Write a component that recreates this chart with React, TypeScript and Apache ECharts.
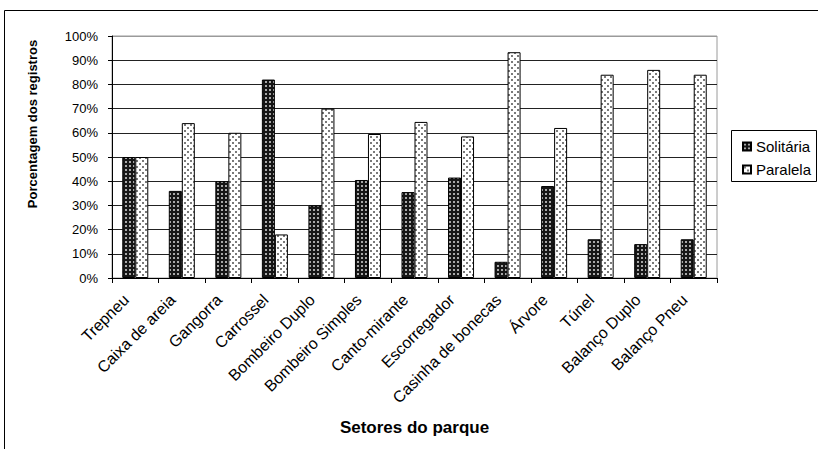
import React, { useEffect, useRef } from "react";
import * as echarts from "echarts";

const categories = [
  "Trepneu",
  "Caixa de areia",
  "Gangorra",
  "Carrossel",
  "Bombeiro Duplo",
  "Bombeiro Simples",
  "Canto-mirante",
  "Escorregador",
  "Casinha de bonecas",
  "Árvore",
  "Túnel",
  "Balanço Duplo",
  "Balanço Pneu",
];
const solitaria = [50, 36, 40, 82, 30, 40.5, 35.5, 41.5, 6.7, 38, 16, 14, 16];
const paralela = [50, 64, 60, 18, 70, 59.5, 64.5, 58.5, 93.3, 62, 84, 86, 84];
const seriesNames = ["Solitária", "Paralela"];
const yAxisTitle = "Porcentagem dos registros";
const xAxisTitle = "Setores do parque";

const FONT = '"Liberation Sans", Arial, sans-serif';

function makePattern(
  size: number,
  bg: string,
  fg: string,
  dots: Array<[number, number, number, number]>
) {
  const c = document.createElement("canvas");
  c.width = size;
  c.height = size;
  const ctx = c.getContext("2d")!;
  ctx.fillStyle = bg;
  ctx.fillRect(0, 0, size, size);
  ctx.fillStyle = fg;
  dots.forEach(([x, y, w, h]) => ctx.fillRect(x, y, w, h));
  return c;
}

export default function App() {
  const ref = useRef<HTMLDivElement>(null);
  useEffect(() => {
    if (!ref.current) return;
    const chart = echarts.init(ref.current, undefined, { renderer: "svg" });
    const darkPat = makePattern(4, "#161616", "#a8a8a8", [[1, 1, 2, 2]]);
    const lightPat = makePattern(6, "#ffffff", "#7a7a7a", [
      [1, 1, 2, 2],
      [4, 4, 2, 2],
    ]);
    const splitColors = Array.from({ length: 11 }, (_, i) =>
      i === 10 ? "#9a9a9a" : "#222222"
    );
    chart.setOption({
      animation: false,
      backgroundColor: "#ffffff",
      textStyle: { fontFamily: FONT, color: "#000" },
      grid: {
        left: 112,
        top: 36,
        width: 605,
        height: 242,
        show: true,
        borderColor: "#9a9a9a",
        borderWidth: 1,
      },
      legend: {
        data: seriesNames,
        orient: "vertical",
        left: 742,
        top: 139,
        itemWidth: 8,
        itemHeight: 8,
        itemGap: 8,
        padding: 0,
        icon: "rect",
        textStyle: { fontSize: 15, color: "#000", fontFamily: FONT },
      },
      xAxis: {
        type: "category",
        data: categories,
        axisLine: { show: true, lineStyle: { color: "#000", width: 1 } },
        axisTick: { show: true, length: 5, lineStyle: { color: "#000" } },
        axisLabel: {
          interval: 0,
          rotate: 45,
          fontSize: 16,
          margin: 10,
          padding: [0, 13, 0, 0],
          color: "#000",
          fontFamily: FONT,
        },
        splitLine: { show: false },
      },
      yAxis: {
        type: "value",
        min: 0,
        max: 100,
        interval: 10,
        axisLine: { show: true, lineStyle: { color: "#000", width: 1 } },
        axisTick: { show: true, length: 4, lineStyle: { color: "#000" } },
        axisLabel: {
          formatter: "{value}%",
          fontSize: 13,
          margin: 14,
          color: "#000",
          fontFamily: FONT,
        },
        splitLine: { show: true, lineStyle: { color: splitColors, width: 1 } },
      },
      series: [
        {
          name: seriesNames[0],
          type: "bar",
          data: solitaria,
          barWidth: 13,
          barGap: "0%",
          itemStyle: {
            color: { image: darkPat, repeat: "repeat" },
            borderColor: "#000",
            borderWidth: 1,
          },
        },
        {
          name: seriesNames[1],
          type: "bar",
          data: paralela,
          barWidth: 13,
          barGap: "0%",
          itemStyle: {
            color: { image: lightPat, repeat: "repeat" },
            borderColor: "#000",
            borderWidth: 1,
          },
        },
      ],
      graphic: [
        {
          type: "rect",
          z: -10,
          shape: { x: 4.5, y: 10.5, width: 900, height: 600 },
          style: { fill: "none", stroke: "#000", lineWidth: 1 },
          silent: true,
        },
        {
          type: "rect",
          shape: { x: 731.5, y: 130.5, width: 85, height: 51 },
          style: { fill: "none", stroke: "#000", lineWidth: 1 },
          silent: true,
        },
        {
          type: "text",
          x: 414.5,
          y: 427,
          style: {
            text: xAxisTitle,
            textAlign: "center",
            textVerticalAlign: "middle",
            font: `bold 17px ${FONT}`,
            fill: "#000",
          },
        },
        {
          type: "text",
          x: 32,
          y: 124,
          rotation: Math.PI / 2,
          style: {
            text: yAxisTitle,
            textAlign: "center",
            textVerticalAlign: "middle",
            font: `bold 13px ${FONT}`,
            fill: "#000",
          },
        },
      ],
    });
    return () => chart.dispose();
  }, []);
  return (
    <div
      ref={ref}
      style={{ position: "absolute", left: 0, top: 0, width: 818, height: 449 }}
    />
  );
}
